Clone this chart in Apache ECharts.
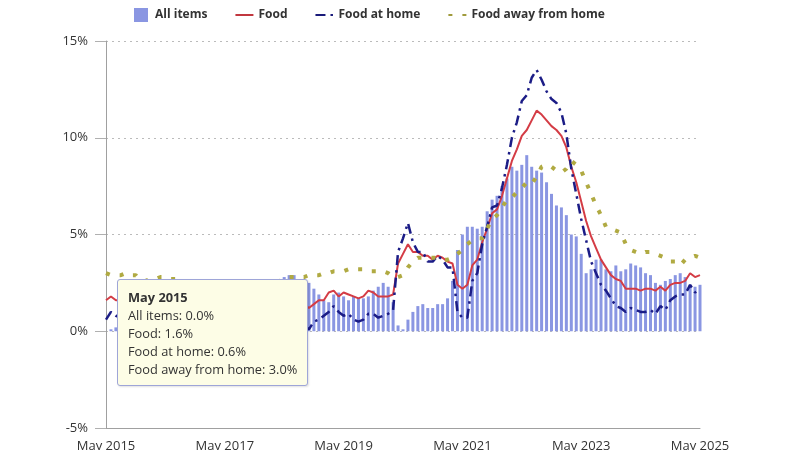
<!DOCTYPE html>
<html><head><meta charset="utf-8">
<script src="https://cdn.jsdelivr.net/npm/echarts@6/dist/echarts.min.js"></script>
<style>html,body{margin:0;padding:0;background:#fff}#c{width:800px;height:450px}</style>
</head><body><div id="c"></div>
<script>
// Categories: monthly, May 2015 .. May 2025
var monthNames = ['Jan','Feb','Mar','Apr','May','Jun','Jul','Aug','Sep','Oct','Nov','Dec'];
var months = [];
for (var y = 2015, m = 4; y < 2025 || (y === 2025 && m <= 4); ) {
  months.push(monthNames[m] + ' ' + y);
  m++; if (m === 12) { m = 0; y++; }
}
var seriesNames = ['All items', 'Food', 'Food at home', 'Food away from home'];
var yTicks = [-5, 0, 5, 10, 15];

var allItems = [
0.0,0.1,0.2,0.2,0.0,0.2,0.5,0.7,
1.4,1.0,0.9,1.1,1.0,1.0,0.8,1.1,1.5,1.6,1.7,2.1,
2.5,2.7,2.4,2.2,1.9,1.6,1.7,1.9,2.2,2.0,2.2,2.1,
2.1,2.2,2.4,2.5,2.8,2.9,2.9,2.7,2.3,2.5,2.2,1.9,
1.6,1.5,1.9,2.0,1.8,1.6,1.8,1.7,1.7,1.8,2.1,2.3,
2.5,2.3,1.5,0.3,0.1,0.6,1.0,1.3,1.4,1.2,1.2,1.4,
1.4,1.7,2.6,4.2,5.0,5.4,5.4,5.3,5.4,6.2,6.8,7.0,
7.5,7.9,8.5,8.3,8.6,9.1,8.5,8.3,8.2,7.7,7.1,6.5,
6.4,6.0,5.0,4.9,4.0,3.0,3.2,3.7,3.7,3.2,3.1,3.4,
3.1,3.2,3.5,3.4,3.3,3.0,2.9,2.5,2.4,2.6,2.7,2.9,
3.0,2.8,2.4,2.3,2.4];

var food = [
1.6,1.8,1.6,1.6,1.6,1.4,1.3,0.8,
0.7,0.8,0.6,0.4,0.2,0.3,0.0,0.0,-0.1,-0.2,-0.2,-0.2,
-0.1,0.0,0.5,0.5,0.2,0.9,1.1,1.1,1.2,1.3,1.4,1.6,
1.7,1.3,1.3,1.4,1.2,1.4,1.4,1.4,1.4,1.2,1.4,1.6,
1.6,2.0,2.1,1.8,2.0,1.9,1.8,1.7,1.8,2.1,2.0,1.8,
1.8,1.8,1.9,3.5,4.0,4.5,4.1,4.1,3.9,3.9,3.7,3.9,
3.8,3.6,3.5,2.4,2.2,2.4,3.4,3.7,4.6,5.3,6.1,6.3,
7.0,7.9,8.8,9.4,10.1,10.4,10.9,11.4,11.2,10.9,10.6,10.4,
10.1,9.5,8.5,7.7,6.7,5.7,4.9,4.3,3.7,3.3,2.9,2.7,
2.6,2.2,2.2,2.2,2.1,2.2,2.2,2.1,2.3,2.1,2.4,2.5,
2.5,2.6,3.0,2.8,2.9];

var foodAtHome = [
0.6,1.0,0.8,0.7,0.5,0.0,-0.1,-0.5,
-0.5,-0.5,-0.8,-1.1,-1.3,-1.6,-1.9,-2.0,-2.3,-2.4,-2.4,-2.0,
-1.9,-1.7,-1.3,-0.9,-0.9,-0.2,-0.1,0.0,0.0,0.0,0.0,0.4,
0.5,0.2,0.3,0.5,0.3,0.4,0.4,0.5,0.3,0.1,0.5,0.6,
0.8,1.0,1.3,1.0,0.8,0.9,0.6,0.5,0.6,0.9,0.9,0.7,
0.8,0.9,1.1,4.1,4.8,5.6,4.6,4.1,4.1,3.6,3.6,3.9,
3.7,3.3,3.3,1.0,0.7,0.7,2.6,3.0,4.5,5.4,6.4,6.5,
7.4,8.6,10.0,10.8,11.9,12.2,13.1,13.5,13.0,12.4,12.0,11.8,
11.3,10.2,8.4,7.1,5.8,4.7,3.6,3.0,2.4,2.1,1.7,1.3,
1.2,1.0,1.2,1.1,1.0,1.0,1.1,0.9,1.3,1.1,1.6,1.8,
1.9,1.9,2.4,2.0,2.2];

var foodAway = [
3.0,2.9,2.9,2.9,3.0,2.9,2.9,2.6,
2.6,2.7,2.7,2.8,2.8,2.7,2.7,2.6,2.5,2.4,2.4,2.3,
2.3,2.4,2.2,2.3,2.3,2.4,2.3,2.4,2.4,2.3,2.4,2.5,
2.5,2.4,2.5,2.6,2.7,2.8,2.8,2.8,2.8,2.9,2.9,2.9,
3.0,3.0,3.1,3.1,3.1,3.2,3.2,3.2,3.2,3.1,3.1,3.1,
3.1,3.0,2.8,2.8,2.9,3.3,3.6,3.8,3.8,3.8,3.8,3.8,
3.7,3.7,3.8,4.0,4.2,4.5,4.7,4.8,4.8,5.3,5.8,6.0,
6.4,6.8,6.9,7.2,7.4,7.7,7.6,8.0,8.5,8.6,8.5,8.3,
8.2,8.4,8.8,8.6,8.3,7.7,7.1,6.5,6.0,5.4,5.3,5.2,
5.1,4.5,4.2,4.1,4.0,4.1,4.1,4.0,3.9,3.8,3.6,3.6,
3.4,3.7,3.8,3.9,3.8];

var COLORS = ['#8a96e2', '#c1373f', '#191a7a', '#a09b3c'];
var FONT = '"Open Sans", "Liberation Sans", sans-serif';
var hideSym = {color: 'rgba(0,0,0,0)', borderWidth: 0, borderColor: 'rgba(0,0,0,0)'};
var chart = echarts.init(document.getElementById('c'), null, {renderer: 'canvas'});
chart.setOption({
  animation: false,
  textStyle: {fontFamily: FONT},
  color: COLORS,
  legend: {
    top: 3, left: 129,
    itemWidth: 18, itemHeight: 14, itemGap: 27,
    textStyle: {fontFamily: FONT, fontWeight: 'bold', fontSize: 12, color: '#333'},
    data: [
      {name: seriesNames[0], icon: 'path://M0 0H10V10H0Z', itemStyle: {color: COLORS[0]}},
      {name: seriesNames[1], itemStyle: hideSym},
      {name: seriesNames[2], itemStyle: hideSym},
      {name: seriesNames[3], itemStyle: hideSym}
    ]
  },
  grid: {left: 106, right: 100, top: 41, bottom: 22, containLabel: false, outerBoundsMode: 'none'},
  tooltip: {
    trigger: 'axis',
    triggerOn: 'none',
    alwaysShowContent: true,
    transitionDuration: 0,
    axisPointer: {type: 'none'},
    position: [117, 279],
    backgroundColor: '#fdfde6',
    borderColor: '#9ea5d8',
    borderWidth: 1,
    padding: [8, 10, 7, 10],
    textStyle: {fontFamily: FONT, fontSize: 12.8, color: '#333'},
    extraCssText: 'box-shadow:1px 1px 2px rgba(0,0,0,0.12);border-radius:3px;line-height:18px;',
    formatter: function (params) {
      var idx = params[0].dataIndex;
      var s = '<div style="font-weight:bold">' + months[idx] + '</div>';
      params.forEach(function (p) {
        s += '<div>' + p.seriesName + ': ' + Number(p.value).toFixed(1) + '%</div>';
      });
      return s;
    }
  },
  xAxis: {
    type: 'category',
    data: months,
    boundaryGap: false,
    axisLine: {onZero: false, lineStyle: {color: '#a0a0a0'}},
    axisTick: {show: false},
    axisLabel: {interval: 23, margin: 12, fontSize: 13, color: '#333', fontFamily: FONT},
    splitLine: {show: false}
  },
  yAxis: {
    type: 'value',
    min: yTicks[0], max: yTicks[yTicks.length - 1], interval: 5,
    axisLine: {show: true, lineStyle: {color: '#a0a0a0'}},
    axisTick: {show: true, length: 11, lineStyle: {color: '#b0b0b0'}},
    axisLabel: {formatter: '{value}%', margin: 18, fontSize: 13, color: '#333', fontFamily: FONT},
    splitLine: {show: true, lineStyle: {type: [2, 4], color: '#bbbbbb'}}
  },
  series: [
    {name: seriesNames[0], type: 'bar', data: allItems, barWidth: 3,
      itemStyle: {color: COLORS[0]}},
    {name: seriesNames[1], type: 'line', data: food, symbol: 'none',
      itemStyle: {color: COLORS[1]},
      lineStyle: {color: COLORS[1], width: 2}},
    {name: seriesNames[2], type: 'line', data: foodAtHome, symbol: 'none',
      itemStyle: {color: COLORS[2]},
      lineStyle: {color: COLORS[2], width: 2.5, type: [10, 5, 2.5, 5]}},
    {name: seriesNames[3], type: 'line', data: foodAway, symbol: 'none',
      itemStyle: {color: COLORS[3]},
      lineStyle: {color: COLORS[3], width: 4, type: [4, 10], cap: 'butt'}}
  ]
});
function showIt() { chart.dispatchAction({type: 'showTip', seriesIndex: 0, dataIndex: 0}); }
showIt();
setTimeout(showIt, 50);
</script>
</body></html>
